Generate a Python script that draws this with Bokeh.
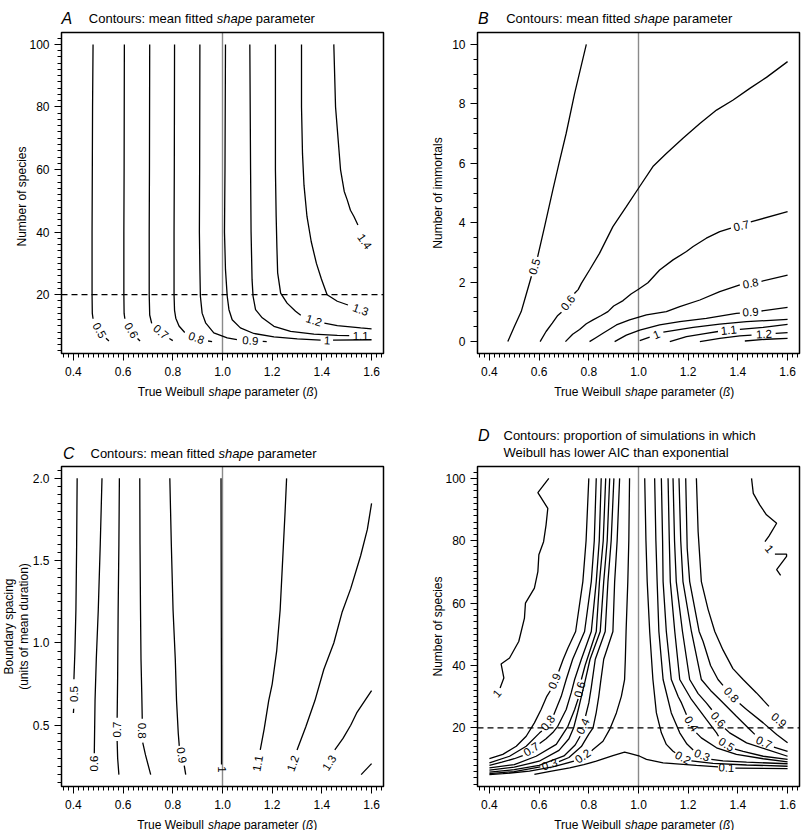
from bokeh.plotting import figure
from bokeh.models import Range1d, FixedTicker, PrintfTickFormatter, Label, BoxAnnotation
from bokeh.layouts import row, column
from bokeh.embed import file_html
from bokeh.resources import INLINE

FONT = "Liberation Sans"

# ---------------- shared axis values ----------------
X_RANGE = (0.352, 1.648)
X_TICKS = [0.4, 0.6, 0.8, 1.0, 1.2, 1.4, 1.6]
X_MINOR = [round(0.36 + 0.02 * i, 2) for i in range(65)]

SP_RANGE = (1.2, 103.8)
SP_TICKS = [20, 40, 60, 80, 100]
SP_MINOR = list(range(2, 104, 2))

IM_RANGE = (-0.4, 10.4)
IM_TICKS = [0, 2, 4, 6, 8, 10]
IM_MINOR = [i * 0.5 for i in range(0, 21)]

BS_RANGE = (0.128, 2.072)
BS_TICKS = [0.5, 1.0, 1.5, 2.0]
BS_MINOR = [round(0.15 + 0.05 * i, 2) for i in range(39)]

REF_X = 1.0
REF_Y = 20

# ---------------- panel A : contours (visible pieces) ----------------
A_xs = [
    [0.479, 0.477, 0.476, 0.475, 0.475, 0.476, 0.479],
    [0.531, 0.543],
    [0.605, 0.604, 0.603, 0.603, 0.604, 0.607],
    [0.658, 0.668],
    [0.707, 0.706, 0.705, 0.705, 0.707, 0.715],
    [0.786, 0.800],
    [0.807, 0.806, 0.805, 0.805, 0.807, 0.812, 0.825, 0.848],
    [0.942, 0.958],
    [0.909, 0.908, 0.907, 0.909, 0.911, 0.918, 0.932, 0.965, 1.019, 1.058],
    [1.162, 1.178],
    [1.012, 1.010, 1.008, 1.012, 1.019, 1.026, 1.039, 1.072, 1.126, 1.207, 1.301, 1.395],
    [1.445, 1.600],
    [1.110, 1.113, 1.115, 1.119, 1.123, 1.133, 1.160, 1.207, 1.274, 1.368, 1.462, 1.510],
    [1.213, 1.213, 1.216, 1.219, 1.222, 1.234, 1.260, 1.294, 1.315],
    [1.410, 1.462, 1.556, 1.600],
    [1.318, 1.318, 1.322, 1.328, 1.340, 1.357, 1.378, 1.398, 1.421, 1.462, 1.505],
    [1.448, 1.455, 1.465, 1.475, 1.490, 1.502, 1.515, 1.529, 1.545],
]
A_ys = [
    [100, 80, 60, 40, 20, 14, 12.3],
    [6.1, 5.2],
    [100, 60, 40, 20, 14, 12.3],
    [6.0, 5.2],
    [100, 60, 40, 20, 13.5, 10.8],
    [6.0, 5.3],
    [100, 60, 40, 20, 15, 12.5, 10, 7.9],
    [5.2, 5.0],
    [100, 60, 40, 28, 19.5, 14.1, 11.0, 7.8, 6.2, 5.6],
    [5.1, 5.0],
    [100, 60, 40, 28, 19.5, 15.2, 12.0, 9.4, 7.6, 6.5, 5.9, 5.5],
    [5.5, 5.6],
    [100, 60, 40, 24.8, 19.5, 15.2, 12.6, 9.9, 8.3, 7.4, 7.0, 6.9],
    [100, 60, 45, 35, 27, 20.5, 17.3, 14.7, 13.4],
    [10.9, 10.1, 9.4, 9.1],
    [100, 80, 65, 55, 45, 37, 30, 25, 20, 17.9, 16.7],
    [100, 80, 70, 60, 53, 50.3, 47, 45, 42.3],
]
A_lab_x = [0.505, 0.633, 0.752, 0.895, 1.112, 1.421, 1.556, 1.368, 1.556, 1.572]
A_lab_y = [8.6, 8.6, 8.1, 6.2, 5.35, 5.35, 6.9, 11.8, 15.2, 37.0]
A_lab_text = ["0.5", "0.6", "0.7", "0.8", "0.9", "1", "1.1", "1.2", "1.3", "1.4"]
A_lab_angle = [-60, -60, -40, -20, -4, -3, 0, -18, -20, -55]

# ---------------- panel B ----------------
B_xs = [
    [0.474, 0.500, 0.528, 0.545, 0.569],
    [0.594, 0.622, 0.655, 0.680, 0.709, 0.743, 0.790],
    [0.604, 0.628, 0.653, 0.675, 0.690],
    [0.742, 0.757, 0.770, 0.803, 0.843, 0.897, 0.951, 1.000, 1.058, 1.112, 1.179, 1.247, 1.314, 1.381, 1.448, 1.515, 1.600],
    [0.706, 0.735, 0.763, 0.790, 0.817, 0.850, 0.877, 0.900, 0.938, 0.970, 1.000, 1.038, 1.085, 1.139, 1.193, 1.220, 1.273, 1.327, 1.372],
    [1.452, 1.600],
    [0.803, 0.830, 0.857, 0.911, 0.964, 1.032, 1.112, 1.166, 1.247, 1.327, 1.408],
    [1.495, 1.600],
    [0.904, 0.951, 1.005, 1.085, 1.166, 1.273, 1.394, 1.408],
    [1.495, 1.600],
    [1.005, 1.045],
    [1.100, 1.220, 1.327, 1.435, 1.600],
    [1.126, 1.193, 1.273, 1.320],
    [1.408, 1.502, 1.600],
    [1.247, 1.327, 1.408, 1.455],
    [1.552, 1.600],
    [1.428, 1.516, 1.600],
]
B_ys = [
    [0, 0.5, 1.01, 1.5, 2.2],
    [2.85, 3.87, 5.10, 6.0, 7.01, 8.35, 10.0],
    [0, 0.34, 0.62, 0.88, 0.99],
    [1.62, 1.75, 1.96, 2.41, 2.97, 3.87, 4.54, 5.16, 5.89, 6.33, 6.84, 7.34, 7.79, 8.13, 8.52, 8.89, 9.42],
    [0, 0.25, 0.41, 0.60, 0.73, 0.88, 1.01, 1.20, 1.38, 1.60, 1.76, 1.98, 2.41, 2.75, 3.03, 3.20, 3.48, 3.70, 3.82],
    [4.03, 4.37],
    [0, 0.14, 0.28, 0.56, 0.73, 0.90, 1.01, 1.18, 1.40, 1.68, 1.91],
    [2.03, 2.24],
    [0, 0.22, 0.39, 0.56, 0.67, 0.78, 0.95, 0.96],
    [1.03, 1.15],
    [0.03, 0.15],
    [0.32, 0.48, 0.59, 0.67, 0.75],
    [0, 0.17, 0.28, 0.34],
    [0.41, 0.48, 0.58],
    [0, 0.11, 0.19, 0.22],
    [0.28, 0.30],
    [0.02, 0.08, 0.11],
]
B_lab_x = [0.581, 0.716, 1.414, 1.451, 1.451, 1.072, 1.363, 1.505]
B_lab_y = [2.52, 1.31, 3.90, 1.96, 0.995, 0.235, 0.385, 0.255]
B_lab_text = ["0.5", "0.6", "0.7", "0.8", "0.9", "1", "1.1", "1.2"]
B_lab_angle = [73, 52, 13, 10, 4, 22, 6, 3]

# ---------------- panel C ----------------
C_xs = [
    [0.415, 0.413, 0.410, 0.406, 0.402],
    [0.401, 0.400],
    [0.515, 0.508, 0.500, 0.492, 0.487, 0.484],
    [0.585, 0.583, 0.580, 0.578, 0.576],
    [0.576, 0.578, 0.583],
    [0.667, 0.668, 0.670, 0.672, 0.675, 0.677],
    [0.679, 0.690, 0.711],
    [0.788, 0.794, 0.801, 0.810, 0.815, 0.822, 0.826],
    [0.846, 0.852],
    [0.994, 0.995, 0.996, 0.996],
    [1.258, 1.252, 1.242, 1.232, 1.218, 1.200, 1.186, 1.168, 1.152],
    [1.600, 1.583, 1.556, 1.516, 1.482, 1.448, 1.408, 1.372, 1.335, 1.300],
    [1.600, 1.573, 1.540, 1.516, 1.485, 1.452],
    [1.600, 1.558],
]
C_ys = [
    [2.0, 1.6, 1.2, 0.95, 0.78],
    [0.60, 0.575],
    [2.0, 1.6, 1.2, 0.9, 0.65, 0.33],
    [2.0, 1.6, 1.2, 0.8, 0.545],
    [0.405, 0.3, 0.2],
    [2.0, 1.6, 1.2, 0.9, 0.7, 0.54],
    [0.395, 0.32, 0.2],
    [2.0, 1.6, 1.2, 0.9, 0.65, 0.45, 0.375],
    [0.255, 0.2],
    [2.0, 1.2, 0.6, 0.262],
    [2.0, 1.8, 1.5, 1.2, 0.95, 0.75, 0.65, 0.48, 0.35],
    [1.848, 1.69, 1.53, 1.33, 1.19, 1.0, 0.84, 0.65, 0.49, 0.35],
    [0.711, 0.65, 0.575, 0.50, 0.42, 0.35],
    [0.267, 0.2],
]
C_lab_x = [0.403, 0.484, 0.576, 0.678, 0.836, 0.996, 1.142, 1.284, 1.430]
C_lab_y = [0.69, 0.267, 0.474, 0.467, 0.318, 0.232, 0.268, 0.268, 0.272]
C_lab_text = ["0.5", "0.6", "0.7", "0.8", "0.9", "1", "1.1", "1.2", "1.3"]
C_lab_angle = [90, 90, 90, -90, -80, -90, 80, 70, 57]

# ---------------- panel D ----------------
D_xs = [
    [0.639, 0.595, 0.635, 0.628, 0.618, 0.599, 0.595, 0.581, 0.545, 0.541, 0.518, 0.481, 0.447, 0.458, 0.443],
    [0.400, 0.454, 0.508, 0.548, 0.581, 0.608, 0.631, 0.645],
    [0.679, 0.697, 0.716, 0.747, 0.776, 0.789, 0.800],
    [0.400, 0.481, 0.548, 0.602, 0.611],
    [0.659, 0.689, 0.709, 0.735, 0.783, 0.810, 0.822, 0.830],
    [0.400, 0.450, 0.500, 0.534],
    [0.602, 0.628, 0.655, 0.675, 0.709, 0.729, 0.743, 0.770, 0.810, 0.830, 0.842, 0.850],
    [0.400, 0.500, 0.588, 0.669, 0.716, 0.743, 0.757],
    [0.770, 0.785, 0.830, 0.843, 0.858, 0.868],
    [0.400, 0.500, 0.600, 0.680, 0.720, 0.739, 0.755, 0.770, 0.785, 0.805, 0.846, 0.860, 0.874, 0.884],
    [0.400, 0.500, 0.600, 0.700, 0.745, 0.765],
    [0.787, 0.800, 0.810, 0.826, 0.866, 0.877, 0.890, 0.901],
    [0.400, 0.500, 0.605],
    [0.680, 0.720, 0.770, 0.800, 0.817, 0.830, 0.840, 0.848, 0.860, 0.897, 0.904, 0.914, 0.924],
    [0.400, 0.454, 0.561, 0.655, 0.740],
    [0.812, 0.817, 0.857, 0.884, 0.911, 0.931, 0.944, 0.947, 0.950, 0.957, 0.961, 0.964],
    [0.581, 0.650, 0.723, 0.780, 0.830, 0.897, 0.944, 0.964, 1.005, 1.032, 1.099, 1.233, 1.320],
    [1.390, 1.600],
    [1.025, 1.030, 1.035, 1.045, 1.058, 1.072, 1.092, 1.112, 1.139, 1.148],
    [1.213, 1.300, 1.435, 1.600],
    [1.065, 1.070, 1.075, 1.082, 1.099, 1.132, 1.166, 1.195, 1.220],
    [1.293, 1.340, 1.435, 1.600],
    [1.092, 1.097, 1.099, 1.112, 1.132, 1.160, 1.173, 1.193],
    [1.233, 1.253, 1.314, 1.394, 1.502, 1.600],
    [1.119, 1.124, 1.128, 1.146, 1.166, 1.213, 1.273, 1.314, 1.322],
    [1.388, 1.421, 1.502, 1.600],
    [1.139, 1.145, 1.152, 1.177, 1.206, 1.240, 1.273, 1.295],
    [1.348, 1.367, 1.435, 1.515, 1.600],
    [1.163, 1.170, 1.179, 1.213, 1.253, 1.290, 1.327, 1.394, 1.448, 1.468],
    [1.545, 1.600],
    [1.190, 1.196, 1.206, 1.244, 1.260, 1.290, 1.320, 1.340],
    [1.407, 1.435, 1.502, 1.556, 1.600],
    [1.233, 1.240, 1.253, 1.280, 1.307, 1.340, 1.380, 1.421, 1.475, 1.525],
    [1.455, 1.462, 1.488, 1.515, 1.556, 1.525, 1.509],
    [1.549, 1.596, 1.596, 1.556, 1.572],
]
D_ys = [
    [100, 95.4, 90.4, 85.1, 79.7, 75.5, 70.1, 64.8, 60, 55.2, 47.7, 42.4, 40.5, 36.0, 32.8],
    [10.1, 11.5, 14.1, 17.3, 21.6, 25.9, 30.1, 31.9],
    [38.1, 42.0, 45.6, 50.9, 66.9, 80, 100],
    [8.8, 10.9, 14.1, 18.4, 19.0],
    [24.2, 30.1, 35.5, 42, 50.9, 66.9, 80, 100],
    [7.95, 9.0, 10.1, 11.1],
    [15.0, 16.5, 18.5, 20.5, 25.9, 31.2, 35.5, 42, 50.9, 66.9, 80, 100],
    [7.2, 8.2, 10.9, 14.7, 20.5, 25.9, 29.3],
    [35.5, 40, 50.9, 66.9, 80, 100],
    [6.45, 7.4, 9.3, 12.8, 16.5, 20, 25, 30, 35, 42, 50.9, 66.9, 80, 100],
    [5.8, 6.6, 8.0, 11.0, 14.5, 17.3],
    [23.8, 28, 33, 42, 50.9, 66.9, 80, 100],
    [5.3, 6.0, 7.5],
    [9.2, 10.5, 14, 18, 20, 25, 30, 35, 42, 50.9, 66.9, 80, 100],
    [5.0, 5.3, 6.1, 7.5, 9.3],
    [12.6, 13.1, 15.7, 19.5, 24.8, 30.1, 35.5, 42, 50.9, 66.9, 80, 100],
    [5.07, 6.1, 7.2, 8.2, 9.3, 11.1, 12.2, 11.8, 10.9, 9.9, 8.8, 8.0, 7.5],
    [7.1, 6.9],
    [100, 80, 66.9, 50.9, 35.5, 24.8, 18.4, 14.7, 12.5, 12.0],
    [9.4, 8.6, 8.1, 7.7],
    [100, 80, 66.9, 50.9, 35.5, 24.8, 18.4, 14.8, 12.9],
    [9.9, 9.4, 9.0, 8.5],
    [100, 80, 66.9, 50.9, 35.5, 30, 28, 24.2],
    [18.4, 16.8, 13.6, 11.5, 10.1, 9.1],
    [100, 80, 66.9, 50.9, 35.5, 29.1, 22.7, 18.4, 17.3],
    [13.2, 12.5, 10.9, 9.9],
    [100, 80, 66.9, 50.9, 35.5, 31, 28, 25.8],
    [19.8, 18.4, 15.2, 13.1, 10.9],
    [100, 80, 66.9, 50.9, 35.5, 32, 29.1, 23.7, 19.5, 17.9],
    [13.8, 12.5],
    [100, 77.6, 66.9, 50.9, 47.7, 40, 35.5, 33.6],
    [27.8, 25.9, 21.6, 17.9, 15.2],
    [100, 82.9, 66.9, 58, 50.9, 45, 39, 35.5, 31.2, 26.9],
    [100, 95.2, 91.5, 88.3, 85.6, 81.5, 79.7],
    [75.7, 75.7, 75.0, 70.7, 68.9],
]
D_lab_x = [0.430, 0.662, 0.635, 0.568, 0.763, 0.776, 0.642, 0.776, 1.354,
           1.179, 1.256, 1.213, 1.354, 1.321, 1.505, 1.374, 1.565, 1.527]
D_lab_y = [31.0, 35.0, 21.6, 13.1, 32.3, 20.5, 8.3, 10.9, 7.2,
           10.4, 11.2, 21.3, 14.7, 22.7, 15.3, 30.6, 22.5, 77.4]
D_lab_text = ["1", "0.9", "0.8", "0.7", "0.6", "0.4", "0.3", "0.2", "0.1",
              "0.2", "0.3", "0.4", "0.5", "0.6", "0.7", "0.8", "0.9", "1"]
D_lab_angle = [50, 66, 53, 33, 75, 65, 18, 35, -3,
               -28, -22, -58, -32, -50, -25, -48, -40, -50]


# ---------------- helpers ----------------
def make_panel(width, height, box, yr, yticks, yminor, yfmt):
    """box = (left, top, right, bottom) of the plot box in the figure's pixels.
    The frame covers the whole figure so that every text can sit inside it."""
    bl, bt, br, bb = box
    sx = (br - bl) / (X_RANGE[1] - X_RANGE[0])
    sy = (bb - bt) / (yr[1] - yr[0])
    xr = Range1d(X_RANGE[0] - bl / sx, X_RANGE[1] + (width - br) / sx)
    yrr = Range1d(yr[0] - (height - bb) / sy, yr[1] + bt / sy)
    p = figure(width=width, height=height, x_range=xr, y_range=yrr, title=None,
               output_backend="svg", toolbar_location=None,
               min_border=0, min_border_left=0, min_border_right=0,
               min_border_top=0, min_border_bottom=0)
    p.xgrid.visible = False
    p.ygrid.visible = False
    p.background_fill_color = "white"
    p.border_fill_color = "white"
    p.outline_line_color = None
    p.xaxis.fixed_location = yr[0]
    p.yaxis.fixed_location = X_RANGE[0]
    p.xaxis.bounds = X_RANGE
    p.yaxis.bounds = yr
    for ax, ticks, minor, fmt, stand in ((p.xaxis[0], X_TICKS, X_MINOR, "%.1f", 6),
                                         (p.yaxis[0], yticks, yminor, yfmt, 5)):
        ax.ticker = FixedTicker(ticks=ticks, minor_ticks=minor)
        ax.formatter = PrintfTickFormatter(format=fmt)
        ax.axis_line_color = "black"
        ax.axis_line_width = 1
        ax.major_tick_line_color = "black"
        ax.minor_tick_line_color = "black"
        ax.major_tick_out = 7
        ax.major_tick_in = 0
        ax.minor_tick_out = 4
        ax.minor_tick_in = 0
        ax.major_label_text_font = FONT
        ax.major_label_text_font_size = "12px"
        ax.major_label_text_color = "black"
        ax.major_label_standoff = stand
    p.add_layout(BoxAnnotation(left=X_RANGE[0], right=X_RANGE[1], bottom=yr[0], top=yr[1],
                               fill_alpha=0, fill_color=None, line_color="black",
                               line_width=1.5, line_alpha=1.0))
    return p


def txt(p, yr, dx, dy, text, size, style="normal", angle=0, align="left", baseline="alphabetic"):
    p.add_layout(Label(x=X_RANGE[0], y=yr[0], x_units="data", y_units="data",
                       x_offset=dx, y_offset=dy, text=text, text_font=FONT,
                       text_font_size=f"{size}px", text_font_style=style,
                       angle=angle, angle_units="deg", text_align=align,
                       text_baseline=baseline, text_color="black"))


def contours(p, xs, ys, lx, ly, lt, la):
    p.multi_line(xs=xs, ys=ys, line_color="black", line_width=1.3)
    for x, y, t, a in zip(lx, ly, lt, la):
        p.add_layout(Label(x=x, y=y, text=t, angle=a, angle_units="deg",
                           text_align="center", text_baseline="middle",
                           text_font=FONT, text_font_size="11.5px", text_color="black"))


def ref_lines(p, yr, dashed):
    p.segment(x0=[REF_X], y0=[yr[0]], x1=[REF_X], y1=[yr[1]],
              line_color="#8a8a8a", line_width=1.4)
    if dashed:
        p.segment(x0=[X_RANGE[0]], y0=[REF_Y], x1=[X_RANGE[1]], y1=[REF_Y],
                  line_color="black", line_width=1.3, line_dash="6 4")


def title(p, yr, h, letter, dx_letter, dx_text, dy):
    txt(p, yr, dx_letter, h + dy, letter, 16, "italic")
    txt(p, yr, dx_text, h + dy, "Contours: mean fitted", 13)
    txt(p, yr, dx_text + 127.9, h + dy, "shape", 13, "italic")
    txt(p, yr, dx_text + 166.9, h + dy, "parameter", 13)


def xtitle(p, yr, dx):
    dy = -38.0
    txt(p, yr, dx, dy, "True Weibull", 12)
    txt(p, yr, dx + 70.7, dy, "shape", 12, "italic")
    txt(p, yr, dx + 106.7, dy, "parameter (", 12)
    txt(p, yr, dx + 168.7, dy, "ß", 12, "italic")
    txt(p, yr, dx + 176.0, dy, ")", 12)


# page has no margin: figures sit at the picture's own coordinates
LW, RW, H = 410, 392, 415
BOX_L1 = (61, 32, 383, 353)   # panel A
BOX_R1 = (67, 32, 389, 353)   # panel B
BOX_L2 = (61, 51, 383, 371)   # panel C
BOX_R2 = (67, 51, 389, 371)   # panel D

# Panel A
pA = make_panel(LW, H, BOX_L1, SP_RANGE, SP_TICKS, SP_MINOR, "%d")
ref_lines(pA, SP_RANGE, True)
contours(pA, A_xs, A_ys, A_lab_x, A_lab_y, A_lab_text, A_lab_angle)
title(pA, SP_RANGE, 321, "A", 0.0, 27.3, 14)
xtitle(pA, SP_RANGE, 76.3)
txt(pA, SP_RANGE, -39.3, 157, "Number of species", 12, angle=90, align="center", baseline="middle")

# Panel B
pB = make_panel(RW, H, BOX_R1, IM_RANGE, IM_TICKS, IM_MINOR, "%d")
ref_lines(pB, IM_RANGE, False)
contours(pB, B_xs, B_ys, B_lab_x, B_lab_y, B_lab_text, B_lab_angle)
title(pB, IM_RANGE, 321, "B", 0.5, 28.7, 14)
xtitle(pB, IM_RANGE, 76.7)
txt(pB, IM_RANGE, -39.9, 160.5, "Number of immortals", 12, angle=90, align="center", baseline="middle")

# Panel C
pC = make_panel(LW, H, BOX_L2, BS_RANGE, BS_TICKS, BS_MINOR, "%.1f")
ref_lines(pC, BS_RANGE, False)
contours(pC, C_xs, C_ys, C_lab_x, C_lab_y, C_lab_text, C_lab_angle)
title(pC, BS_RANGE, 320, "C", 1.5, 29.0, 12.7)
xtitle(pC, BS_RANGE, 75.7)
txt(pC, BS_RANGE, -53.0, 160, "Boundary spacing", 12, angle=90, align="center", baseline="middle")
txt(pC, BS_RANGE, -38.0, 160, "(units of mean duration)", 12, angle=90, align="center", baseline="middle")

# Panel D
pD = make_panel(RW, H, BOX_R2, SP_RANGE, SP_TICKS, SP_MINOR, "%d")
ref_lines(pD, SP_RANGE, True)
contours(pD, D_xs, D_ys, D_lab_x, D_lab_y, D_lab_text, D_lab_angle)
txt(pD, SP_RANGE, 0.5, 351, "D", 16, "italic")
txt(pD, SP_RANGE, 26, 351, "Contours: proportion of simulations in which", 13)
txt(pD, SP_RANGE, 26, 334.3, "Weibull has lower AIC than exponential", 13)
xtitle(pD, SP_RANGE, 76.7)
txt(pD, SP_RANGE, -39.9, 160, "Number of species", 12, angle=90, align="center", baseline="middle")

layout = column(row(pA, pB), row(pC, pD))
open("out.html", "w").write(file_html(layout, INLINE))
